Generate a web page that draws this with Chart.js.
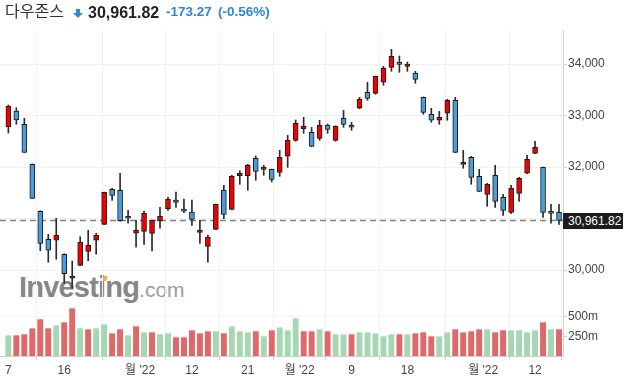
<!DOCTYPE html>
<html><head><meta charset="utf-8">
<script src="https://cdn.jsdelivr.net/npm/chart.js@4.4.1/dist/chart.umd.min.js"></script>
<style>
html,body{margin:0;padding:0;background:#fff;}
body{width:627px;height:379px;position:relative;overflow:hidden;font-family:Arial,"Liberation Sans",sans-serif;}
.abs{position:absolute;white-space:nowrap;}
#c1{position:absolute;left:0;top:0;}
#c2{position:absolute;left:0;top:299px;}
</style></head><body>
<div class="abs" id="wm" style="left:19px;top:274px;line-height:27px;">
  <span style="font-weight:bold;font-size:29px;color:#878787;letter-spacing:-0.8px">Investing</span><span style="font-size:21px;color:#9c9c9c">.com</span>
</div>
<div class="abs" style="left:103px;top:276px;width:4px;height:5px;background:#f5b041;transform:skewX(-15deg);"></div>
<canvas id="c1" width="627" height="299"></canvas>
<canvas id="c2" width="627" height="80"></canvas>
<div class="abs" style="left:5px;top:-3px;line-height:26px;font-family:'Noto Sans CJK KR',sans-serif;font-size:16px;color:#333;">다우존스</div>
<div class="abs" style="left:76px;top:9px;width:4px;height:5px;background:#2f8bdc;"></div>
<div class="abs" style="left:73px;top:13px;width:0;height:0;border-left:5px solid transparent;border-right:5px solid transparent;border-top:5px solid #2f8bdc;"></div>
<div class="abs" style="left:88px;top:0px;line-height:26px;font-weight:bold;font-size:16px;color:#222;">30,961.82</div>
<div class="abs" style="left:166px;top:-1px;line-height:26px;font-weight:bold;font-size:13.5px;color:#2b87da;">-173.27</div>
<div class="abs" style="left:218px;top:-1px;line-height:26px;font-weight:bold;font-size:13.5px;color:#2b87da;">(-0.56%)</div>
<div class="abs" id="lastBox" style="left:563px;width:55px;padding-left:5px;height:16px;background:#1c1c1c;color:#fff;font-size:12px;line-height:16px;">30,961.82</div>
<script>
const dates = [
 '2022-06-07','2022-06-08','2022-06-09','2022-06-10','2022-06-13','2022-06-14','2022-06-15','2022-06-16','2022-06-17','2022-06-21',
 '2022-06-22','2022-06-23','2022-06-24','2022-06-27','2022-06-28','2022-06-29','2022-06-30','2022-07-01','2022-07-05','2022-07-06',
 '2022-07-07','2022-07-08','2022-07-11','2022-07-12','2022-07-13','2022-07-14','2022-07-15','2022-07-18','2022-07-19','2022-07-20',
 '2022-07-21','2022-07-22','2022-07-25','2022-07-26','2022-07-27','2022-07-28','2022-07-29','2022-08-01','2022-08-02','2022-08-03',
 '2022-08-04','2022-08-05','2022-08-08','2022-08-09','2022-08-10','2022-08-11','2022-08-12','2022-08-15','2022-08-16','2022-08-17',
 '2022-08-18','2022-08-19','2022-08-22','2022-08-23','2022-08-24','2022-08-25','2022-08-26','2022-08-29','2022-08-30','2022-08-31',
 '2022-09-01','2022-09-02','2022-09-06','2022-09-07','2022-09-08','2022-09-09','2022-09-12','2022-09-13','2022-09-14','2022-09-15'
];
const openP = [
 32782,33087,32829,32052,31140,30596,30577,30305,29839,30091,
 30363,30577,30887,31567,31548,31043,30713,30751,30711,30957,
 31190,31359,31184,31126,30732,30460,30790,31553,31178,31831,
 31831,32169,31955,31955,31897,32208,32518,32744,32674,32557,
 32816,32518,32946,32810,33140,33450,33431,33645,33936,34039,
 33955,33825,33353,33023,32907,33043,33295,32052,32188,31819,
 31470,31839,31411,31120,31489,31878,32266,31994,31140,31120
];
const highP = [
 33204,33151,32946,32060,31150,30693,31004,30315,30175,30647,
 30771,30713,31515,31586,31878,31159,30965,31146,30970,31217,
 31417,31515,31379,31359,30965,30680,31280,31644,31839,31928,
 32052,32214,32033,31960,32324,32616,32913,32965,32771,32907,
 32835,32800,33101,32868,33353,33645,33765,33955,34285,34155,
 34039,33858,33360,33140,33081,33314,33353,32324,32208,31955,
 31683,32033,31470,31644,31800,32227,32499,32000,31276,31276
];
const lowP = [
 32660,32829,32282,31385,30375,30150,30208,29742,29645,30085,
 30181,30305,30880,31353,30950,30907,30441,30499,30369,30810,
 31159,31217,31113,30868,30518,30150,30785,30996,31170,31664,
 31548,31742,31839,31709,31819,31994,32499,32654,32395,32518,
 32654,32499,32771,32713,33130,33295,33412,33586,33858,33839,
 33858,33625,33023,32868,32829,32907,32280,31975,31664,31520,
 31237,31217,31062,31101,31334,31870,32260,31023,30907,30887
];
const closeP = [
 33184,32913,32285,31392,30518,30383,30674,29928,29878,30544,
 30480,30674,31509,31450,30957,31004,30771,31101,30965,31043,
 31379,31314,31140,30984,30777,30641,31276,31081,31819,31883,
 32033,31916,32000,31761,32188,32524,32849,32790,32402,32810,
 32732,32790,32829,32771,33314,33334,33761,33917,34150,33994,
 34000,33703,33062,32907,32965,33295,32285,32091,31800,31528,
 31664,31334,31159,31586,31780,32150,32383,31120,31101,30961.82
];
const volumeM = [
 265,265,278,354,467,354,392,429,606,354,
 341,354,404,290,341,265,379,303,303,278,
 290,240,240,328,290,316,316,290,379,316,
 303,316,253,328,366,328,480,316,316,341,
 316,278,278,278,303,303,290,253,278,278,
 278,290,303,253,253,303,341,303,316,341,
 341,303,328,328,328,303,328,429,341,341
];
const volumeUp = [
 1,0,0,0,0,0,1,0,0,1,
 0,1,1,0,0,1,0,1,0,1,
 1,0,0,0,0,0,1,0,1,1,
 1,0,1,0,1,1,1,0,0,1,
 0,1,1,0,1,1,1,1,1,0,
 1,0,0,0,1,1,0,0,0,0,
 1,0,0,1,1,1,1,0,1,0
];
const tickPositions = [0, 7, 16.5, 23, 30, 36.5, 43, 50, 59.5, 66];
const tickLabels = ['7', '16', "월 '22", '12', '21', "월 '22", '9', '18', "월 '22", '12'];
const priceTicks = [30000, 31000, 32000, 33000, 34000];
const volumeTicks = [250, 500];
const lastPrice = 30961.82;

const UP = '#f20000', DOWN = '#4a9dd9', EDGE = '#1a1a1a', WICK = '#2b2b2b';
const VUP = '#a6d6b4', VDN = '#e06868', VUPCAP = '#cdebd6', VDNCAP = '#f2a9a9';
const GRID = '#f1f1f1', AXIS = '#d3d3d3', TICKC = '#cfcfcf', LABEL = '#444';
const XMIN = -1.05, XMAX = 69.5;

Chart.defaults.font.family = 'Arial, "Liberation Sans", "Noto Sans CJK KR", sans-serif';
Chart.defaults.font.size = 12;

const xIdx = dates.map((d, i) => i);

const chart1 = new Chart(document.getElementById('c1'), {
  type: 'bar',
  data: {
    datasets: [
      {
        type: 'bar', order: 1, grouped: false, barThickness: 5,
        data: xIdx.map(i => ({x: i, y: [Math.min(openP[i], closeP[i]), Math.max(openP[i], closeP[i])]})),
        backgroundColor: xIdx.map(i => closeP[i] >= openP[i] ? UP : DOWN),
        borderColor: EDGE, borderWidth: 1, borderSkipped: false
      },
      {
        type: 'bar', order: 2, grouped: false, barThickness: 1,
        data: xIdx.map(i => ({x: i, y: [lowP[i], highP[i]]})),
        backgroundColor: WICK, borderWidth: 0
      },
      {
        type: 'line', order: 3,
        data: [{x: XMIN, y: lastPrice}, {x: XMAX, y: lastPrice}],
        borderColor: '#808080', borderWidth: 1.6, borderDash: [6, 4], pointRadius: 0, fill: false
      }
    ]
  },
  options: {
    responsive: false, animation: false, devicePixelRatio: 1,
    layout: {padding: {top: 30, left: 0, right: 0, bottom: 0}},
    plugins: {legend: {display: false}, tooltip: {enabled: false}},
    scales: {
      x: {
        type: 'linear', min: XMIN, max: XMAX, offset: false,
        grid: {color: GRID, drawTicks: false},
        border: {color: '#c6c6c6'},
        ticks: {display: false},
        afterBuildTicks: s => { s.ticks = tickPositions.map(v => ({value: v})); },
        afterFit: s => { s.height = 0; s.paddingLeft = 0; s.paddingRight = 0; }
      },
      y: {
        position: 'right', min: 29436.9, max: 34660.2,
        grid: {color: GRID, tickLength: 4, tickColor: TICKC},
        border: {color: AXIS},
        ticks: {color: LABEL, padding: 1, callback: v => v.toLocaleString('en-US')},
        afterBuildTicks: s => { s.ticks = priceTicks.map(v => ({value: v})); },
        afterFit: s => { s.width = 64; s.paddingTop = 0; s.paddingBottom = 0; }
      }
    }
  }
});

const chart2 = new Chart(document.getElementById('c2'), {
  type: 'bar',
  data: {
    datasets: [{
      grouped: false, barThickness: 6,
      data: xIdx.map(i => ({x: i, y: volumeM[i]})),
      backgroundColor: xIdx.map(i => volumeUp[i] ? VUP : VDN),
      borderColor: xIdx.map(i => volumeUp[i] ? VUPCAP : VDNCAP),
      borderWidth: {top: 1, left: 0, right: 0, bottom: 0}
    }]
  },
  options: {
    responsive: false, animation: false, devicePixelRatio: 1,
    layout: {padding: 0},
    plugins: {legend: {display: false}, tooltip: {enabled: false}},
    scales: {
      x: {
        type: 'linear', min: XMIN, max: XMAX, offset: false,
        grid: {color: GRID, tickLength: 4, tickColor: TICKC},
        border: {color: '#cfcfcf'},
        ticks: {color: LABEL, padding: 3, autoSkip: false, maxRotation: 0,
          callback: v => { const k = tickPositions.indexOf(v); return k >= 0 ? tickLabels[k] : ''; }},
        afterBuildTicks: s => { s.ticks = tickPositions.map(v => ({value: v})); },
        afterFit: s => { s.height = 23; s.paddingLeft = 0; s.paddingRight = 0; }
      },
      y: {
        position: 'right', min: 0, max: 720,
        grid: {color: '#f5f5f5', tickLength: 4, tickColor: TICKC},
        border: {color: AXIS},
        ticks: {color: LABEL, padding: 1, callback: v => v + 'm'},
        afterBuildTicks: s => { s.ticks = volumeTicks.map(v => ({value: v})); },
        afterFit: s => { s.width = 64; s.paddingTop = 0; s.paddingBottom = 0; }
      }
    }
  }
});

const yPix = chart1.scales.y.getPixelForValue(lastPrice);
document.getElementById('lastBox').style.top = (yPix - 7.5) + 'px';
</script>
</body></html>
